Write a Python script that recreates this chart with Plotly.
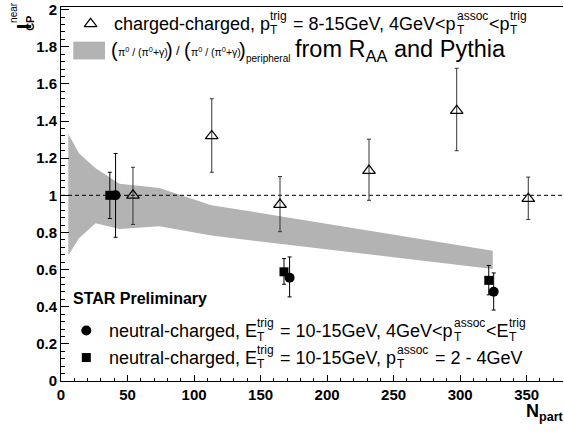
import plotly.graph_objects as go

# ---------------- data ----------------
# charged-charged (open triangles)
cc_npart = [54.1, 113.3, 164.6, 231.5, 297.4, 351.2]
cc_icp = [1.000, 1.320, 0.950, 1.133, 1.456, 0.982]
cc_err_hi = [0.151, 0.200, 0.151, 0.169, 0.228, 0.116]
cc_err_lo = [0.157, 0.196, 0.146, 0.160, 0.216, 0.112]

# neutral-charged, 4GeV < p_T^assoc < E_T^trig (filled circles)
nc1_npart = [41.0, 171.8, 325.2]
nc1_icp = [1.000, 0.556, 0.481]
nc1_err_hi = [0.225, 0.112, 0.101]
nc1_err_lo = [0.226, 0.103, 0.099]

# neutral-charged, p_T^assoc = 2-4 GeV (filled squares)
nc2_npart = [36.7, 167.6, 321.5]
nc2_icp = [1.000, 0.588, 0.542]
nc2_err_hi = [0.124, 0.071, 0.080]
nc2_err_lo = [0.125, 0.067, 0.078]

# grey band: (pi0/(pi0+gamma)) / (pi0/(pi0+gamma))_peripheral
band_npart = [5.5, 13.5, 26.0, 44.0, 74.0, 113.0, 324.5]
band_upper = [1.330, 1.227, 1.145, 1.062, 1.039, 0.947, 0.702]
band_lower = [0.677, 0.769, 0.849, 0.819, 0.833, 0.783, 0.603]

x_tick_step = 50
y_tick_step = 0.2
x_range = [0, 377.3]
y_range = [0, 2.014]

# ---------------- layout helpers ----------------
W, H = 564, 433
L, R, T, B = 61, 563, 3, 381
FONT = "Liberation Sans, Arial, Helvetica, sans-serif"
BAND_COLOR = "#b3b3b3"


def X(px):
    return (px - L) / (R - L)


def Y(py):
    return (B - py) / (B - T)


AW = {' ': 278, '(': 333, ')': 333, '+': 584, ',': 278, '-': 333, '.': 278, '/': 278,
      '<': 584, '=': 584, '>': 584, 'A': 667, 'E': 667, 'G': 778, 'P': 667, 'R': 722,
      'T': 611, 'V': 667, 'a': 556, 'c': 500, 'd': 556, 'e': 556, 'g': 556, 'h': 556,
      'i': 222, 'l': 222, 'm': 833, 'n': 556, 'o': 556, 'p': 556, 'r': 333, 's': 500,
      't': 278, 'u': 556, 'y': 500, 'π': 583, 'γ': 500}
for d in '0123456789':
    AW[d] = 556


def tw(s, size):
    return sum(AW.get(c, 556) for c in s) * size / 1000.0


annotations = []


def ann(text, px, py, size, xanchor='left', yanchor='middle', bold=False, angle=0):
    annotations.append(dict(
        text=text, x=X(px), y=Y(py), xref='paper', yref='paper', showarrow=False,
        xanchor=xanchor, yanchor=yanchor, textangle=angle, borderpad=0, borderwidth=0,
        font=dict(family=FONT, size=size, color='black', weight='bold' if bold else 'normal')))


def esc(s):
    return s.replace('&', '&amp;').replace('<', '&lt;').replace('>', '&gt;')


def rich_line(parts, x0, yc, size=18, ssize=12):
    x = x0
    for p in parts:
        if isinstance(p, str):
            stripped = p.lstrip(' ')
            x += tw(p[:len(p) - len(stripped)], size)
            ann(esc(stripped.rstrip(' ')), x, yc, size)
            x += tw(stripped, size)
        else:
            sup, sub = p
            ann(esc(sup), x, yc - 0.45 * size, ssize)
            ann(esc(sub), x, yc + 0.36 * size, ssize)
            x += max(tw(sup, ssize), tw(sub, ssize)) + 1


fig = go.Figure()

# band
fig.add_trace(go.Scatter(
    x=band_npart + band_npart[::-1], y=band_upper + band_lower[::-1],
    fill='toself', fillcolor=BAND_COLOR, line=dict(width=0), mode='lines',
    hoverinfo='skip', showlegend=False))

# reference line at 1
fig.add_trace(go.Scatter(
    x=x_range, y=[1, 1], mode='lines', line=dict(color='black', width=1, dash='4px,3px'),
    hoverinfo='skip', showlegend=False))

# charged-charged
fig.add_trace(go.Scatter(
    x=cc_npart, y=cc_icp, mode='markers',
    marker=dict(symbol='triangle-up-open', size=11, color='black', line=dict(width=1.2, color='black')),
    error_y=dict(type='data', symmetric=False, array=cc_err_hi, arrayminus=cc_err_lo,
                 color='#333333', thickness=1, width=2),
    showlegend=False))

# neutral-charged, 2-4 GeV squares
fig.add_trace(go.Scatter(
    x=nc2_npart, y=nc2_icp, mode='markers',
    marker=dict(symbol='square', size=9, color='black'),
    error_y=dict(type='data', symmetric=False, array=nc2_err_hi, arrayminus=nc2_err_lo,
                 color='black', thickness=1, width=2),
    showlegend=False))

# neutral-charged, 4GeV-E_T circles
fig.add_trace(go.Scatter(
    x=nc1_npart, y=nc1_icp, mode='markers',
    marker=dict(symbol='circle', size=10, color='black'),
    error_y=dict(type='data', symmetric=False, array=nc1_err_hi, arrayminus=nc1_err_lo,
                 color='black', thickness=1, width=2),
    showlegend=False))

# legend glyphs on an overlay axis in paper units
fig.add_trace(go.Scatter(
    x=[X(90.6)], y=[Y(20)], xaxis='x2', yaxis='y2', mode='markers', cliponaxis=False,
    marker=dict(symbol='triangle-up-open', size=11, color='black', line=dict(width=1.2)),
    showlegend=False, hoverinfo='skip'))
fig.add_trace(go.Scatter(
    x=[X(86.3)], y=[Y(330)], xaxis='x2', yaxis='y2', mode='markers', cliponaxis=False,
    marker=dict(symbol='circle', size=10, color='black'), showlegend=False, hoverinfo='skip'))
fig.add_trace(go.Scatter(
    x=[X(86.3)], y=[Y(357.3)], xaxis='x2', yaxis='y2', mode='markers', cliponaxis=False,
    marker=dict(symbol='square', size=9, color='black'), showlegend=False, hoverinfo='skip'))

shapes = [dict(type='rect', xref='paper', yref='paper', x0=X(73.3), x1=X(105), y0=Y(56), y1=Y(38),
               fillcolor=BAND_COLOR, line=dict(width=0))]

# legend texts
rich_line(["charged-charged, p", ("trig", "T"), " = 8-15GeV, 4GeV<p", ("assoc", "T"), "<p", ("trig", "T")],
          114, 20)

# second legend line: pieces laid out one after another
PAREN, INNER, SLASH, PERI, TAIL = 20, 10.5, 13, 10, 23.5
inner = "π<sup>0</sup> / (π<sup>0</sup>+γ)"
inner_w = (2 * AW['π'] + 2 * 0.7 * 556 + 3 * 278 + 2 * 333 + 584 + 500) * INNER / 1000.0
paren_w = tw("(", PAREN)
xc = 111.0
for grp in range(2):
    ann("(", xc, 46, PAREN)
    xc += paren_w + 0.5
    ann(inner, xc, 48, INNER)
    xc += inner_w + 0.5
    ann(")", xc, 46, PAREN)
    xc += paren_w
    if grp == 0:
        ann("/", xc + tw(" ", SLASH), 47, SLASH)
        xc += tw(" / ", SLASH)
ann("peripheral", xc + 0.5, 55, PERI)
xc += tw("peripheral", PERI) + 1
ann("from R<sub>AA</sub> and Pythia", max(xc + 4, 281.5), 47, TAIL)

ann("STAR Preliminary", 73, 298, 16, bold=True)
rich_line(["neutral-charged, E", ("trig", "T"), " = 10-15GeV, 4GeV<p", ("assoc", "T"), "<E", ("trig", "T")],
          109, 330)
rich_line(["neutral-charged, E", ("trig", "T"), " = 10-15GeV, p", ("assoc", "T"), " = 2 - 4GeV"],
          109, 357.3)

# axis titles
ann("N<sub>part</sub>", 564, 401, 18, xanchor='right', yanchor='top', bold=True)
ann("I", 23.5, 23, 20, xanchor='center', yanchor='middle', bold=True, angle=-90)
ann("CP", 30, 20, 11, xanchor='center', yanchor='middle', bold=True, angle=-90)
ann("near", 14, 9, 10, xanchor='center', yanchor='middle', angle=-90)

fig.update_layout(
    width=W, height=H, autosize=False,
    margin=dict(l=L, r=W - R, t=T, b=H - B, pad=0),
    paper_bgcolor='white', plot_bgcolor='white',
    font=dict(family=FONT, color='black'),
    shapes=shapes, annotations=annotations,
    xaxis=dict(range=x_range, tick0=0, dtick=x_tick_step, ticks='inside', ticklen=6, tickwidth=1,
               tickcolor='black', showline=True, linecolor='black', linewidth=1, mirror=True,
               showgrid=False, zeroline=False, ticklabeloverflow='allow',
               minor=dict(ticks='inside', ticklen=3, dtick=10, tickcolor='black', showgrid=False),
               tickfont=dict(family=FONT, size=15, color='black', weight='bold')),
    yaxis=dict(range=y_range, tick0=0, dtick=y_tick_step, ticks='inside', ticklen=8, tickwidth=1,
               tickcolor='black', showline=True, linecolor='black', linewidth=1,
               showgrid=False, zeroline=False, ticklabeloverflow='allow',
               minor=dict(ticks='inside', ticklen=4, dtick=0.04, tickcolor='black', showgrid=False),
               tickfont=dict(family=FONT, size=15, color='black', weight='bold')),
    xaxis2=dict(overlaying='x', range=[0, 1], visible=False, fixedrange=True),
    yaxis2=dict(overlaying='y', range=[0, 1], visible=False, fixedrange=True),
    showlegend=False,
)

fig.write_html("out.html", config={'displayModeBar': False},
               post_script="document.body.style.margin='0px';document.body.style.overflow='hidden';")
